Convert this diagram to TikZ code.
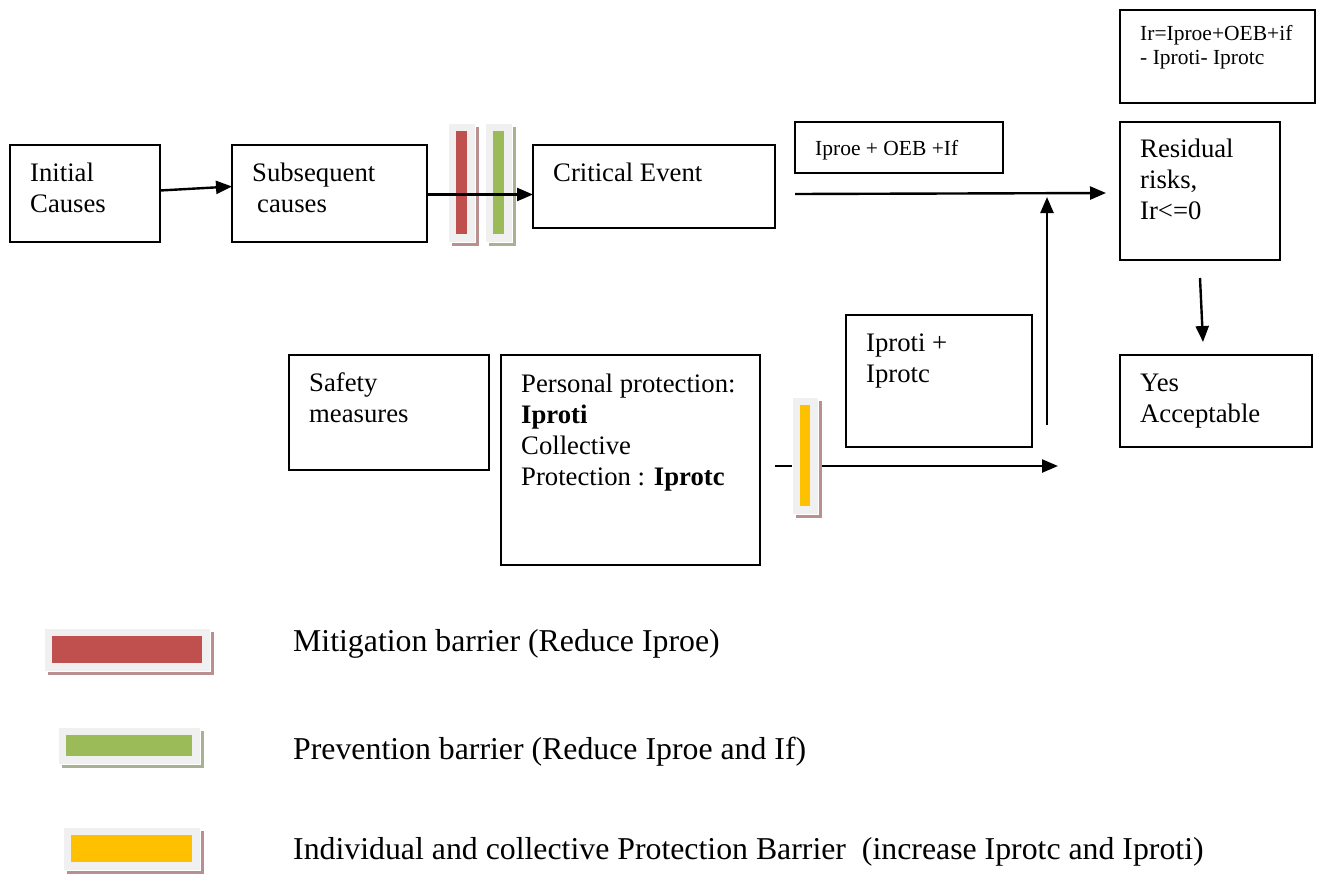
\documentclass[tikz,border=0pt]{standalone}
\usepackage{fontspec}
\setmainfont{Liberation Serif}
\usetikzlibrary{positioning, calc, arrows.meta}

\definecolor{mitig}{HTML}{C0504D}
\definecolor{prevent}{HTML}{9BBB59}
\definecolor{protect}{HTML}{FFC000}
\definecolor{barbg}{HTML}{F0F0F0}
\definecolor{redshade}{HTML}{B89090}
\definecolor{greenshade}{HTML}{A8B292}

% barrier: frame corners, bar colour, shadow colour
\newcommand{\barrier}[4]{%
  \fill[#4] ([shift={(4,4)}]#1) rectangle ([shift={(4,4)}]#2);
  \filldraw[fill=barbg, draw=white, line width=1pt] (#1) rectangle (#2);
  \fill[#3] ([shift={(8,8)}]#1) rectangle ([shift={(-8,-8)}]#2);
}

\begin{document}
\begin{tikzpicture}[x=1pt, y=-1pt,
  Arr/.style={-{Triangle[length=16pt,width=13pt]}, line width=2.4pt},
  box/.style={draw, line width=1.8pt, anchor=north west, inner sep=0pt, outer sep=0pt},
  txt/.style={anchor=base west, inner sep=0pt, align=flush left, text width=#1,
    font=\fontsize{26.7}{31}\selectfont},
  txt/.default=240pt,
  smalltxt/.style={anchor=base west, inner sep=0pt, align=flush left, text width=200pt,
    font=\fontsize{21.5}{24}\selectfont},
  legtxt/.style={anchor=base west, inner sep=0pt,
    font=\fontsize{31.8}{36}\selectfont}]
  \useasboundingbox (0,0) rectangle (1319,876);

  % boxes
  \node[box, minimum width=150pt, minimum height=97pt] (init) at (10,145) {};
  \node[box, minimum width=195pt, minimum height=97pt] (subs) at (232,145) {};
  \node[box, minimum width=242pt, minimum height=83pt] (crit) at (533,145) {};
  \node[box, minimum width=208pt, minimum height=51pt] (evsum) at (795,122) {};
  \node[box, minimum width=195pt, minimum height=93pt] (irform) at (1120,10) {};
  \node[box, minimum width=160pt, minimum height=138pt] (resid) at (1120,122) {};
  \node[box, minimum width=192pt, minimum height=92pt] (accept) at (1120,355) {};
  \node[box, minimum width=200pt, minimum height=115pt] (safety) at (289,355) {};
  \node[box, minimum width=259pt, minimum height=210pt] (pers) at (501,355) {};
  \node[box, minimum width=186pt, minimum height=132pt] (protsum) at (846,315) {};

  % texts
  \node[txt=130pt] (initT) at ([shift={(20,36)}]init.north west) {Initial\\Causes};
  \node[txt=170pt] (subsT) at ([shift={(20,36)}]subs.north west) {Subsequent\\\hspace{5pt}causes};
  \node[txt=220pt] (critT) at ([shift={(20,36)}]crit.north west) {Critical Event};
  \node[smalltxt] (evsumT) at ([shift={(20,33)}]evsum.north west) {Iproe + OEB +If};
  \node[smalltxt] (irformT) at ([shift={(20,30)}]irform.north west) {Ir=Iproe+OEB+if\\- Iproti- Iprotc};
  \node[txt=140pt] (residT) at ([shift={(20,35)}]resid.north west) {Residual\\risks,\\Ir<=0};
  \node[txt=170pt] (acceptT) at ([shift={(20,36)}]accept.north west) {Yes\\Acceptable};
  \node[txt=180pt] (safetyT) at ([shift={(20,36)}]safety.north west) {Safety\\measures};
  \node[txt=240pt] (persT) at ([shift={(20,37)}]pers.north west)
    {Personal protection:\\\textbf{Iproti}\\Collective\\Protection : \textbf{Iprotc}};
  \node[txt=170pt] (protsumT) at ([shift={(20,36)}]protsum.north west) {Iproti +\\Iprotc};

  % free ends
  \coordinate (evstart) at (795,194);
  \coordinate (protup) at (1047,425);
  \coordinate (protstart) at (775,466);
  \coordinate (protend) at (1058,466);

  % top barriers
  \barrier{448,123}{475,242}{mitig}{redshade}
  \barrier{485,123}{512,242}{prevent}{greenshade}

  % connectors
  \draw[Arr] ([yshift=3pt]init.east) -- ([yshift=7pt]subs.west);
  \draw[Arr] ([yshift=-1pt]subs.east) -- ([yshift=-1pt]subs.east -| crit.west);
  \draw[Arr] (evstart) -- ([xshift=-14pt,yshift=-2pt]resid.west);
  \draw[Arr] (protup) -- (protup |- 0,197);
  \draw[Arr] ([yshift=-18pt]resid.south) -- ([xshift=-13pt,yshift=13pt]accept.north);
  \draw[Arr] (protstart) -- (protend);

  % protection barrier over the line
  \barrier{792,397}{818,514}{protect}{redshade}

  % legend
  \barrier{44,628}{210,671}{mitig}{redshade}
  \barrier{58,727}{200,764}{prevent}{greenshade}
  \barrier{63,827}{200,870}{protect}{redshade}
  \node[legtxt] (legM) at (293,651) {Mitigation barrier (Reduce Iproe)};
  \node[legtxt] (legP) at (293,759) {Prevention barrier (Reduce Iproe and If)};
  \node[legtxt] (legI) at (293,859) {Individual and collective Protection Barrier\ \ (increase Iprotc and Iproti)};
\end{tikzpicture}
\end{document}
